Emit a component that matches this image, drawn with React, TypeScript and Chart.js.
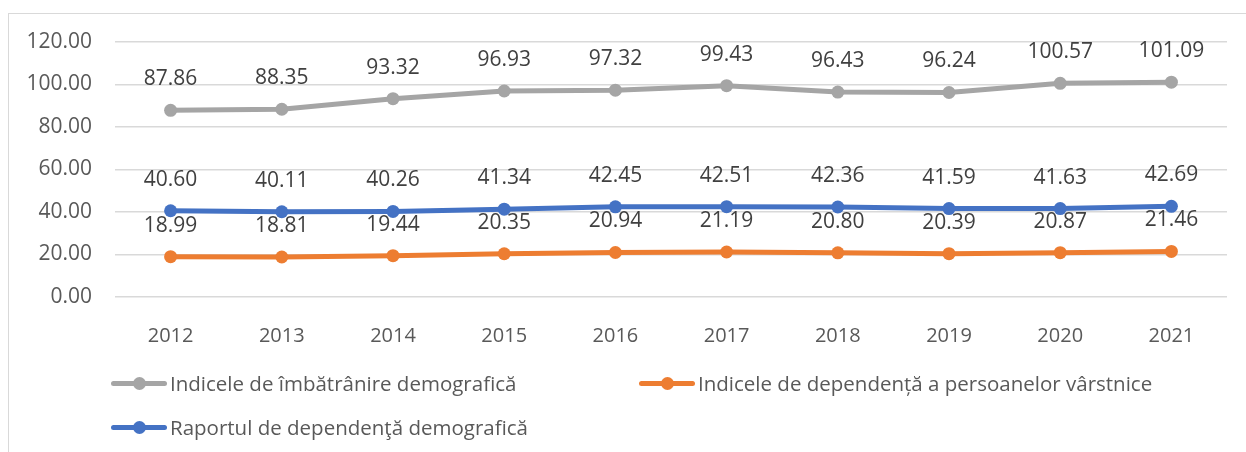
import React, { useEffect, useRef } from "react";
import { Chart, registerables } from "chart.js";

Chart.register(...registerables);

const categories = ["2012", "2013", "2014", "2015", "2016", "2017", "2018", "2019", "2020", "2021"];
const imbatranire = [87.86, 88.35, 93.32, 96.93, 97.32, 99.43, 96.43, 96.24, 100.57, 101.09];
const dependentaVarstnici = [18.99, 18.81, 19.44, 20.35, 20.94, 21.19, 20.8, 20.39, 20.87, 21.46];
const raportDependenta = [40.6, 40.11, 40.26, 41.34, 42.45, 42.51, 42.36, 41.59, 41.63, 42.69];
const yTicks = [0, 20, 40, 60, 80, 100, 120];

const seriesNames = [
  "Indicele de îmbătrânire demografică",
  "Indicele de dependență a persoanelor vârstnice",
  "Raportul de dependenţă demografică",
];
const colors = ["#A5A5A5", "#ED7D31", "#4472C4"];

const FONT = "'Open Sans', 'Noto Sans', sans-serif";

const labelPlugin = {
  id: "valueLabels",
  afterDatasetsDraw(chart: any) {
    const ctx = chart.ctx;
    ctx.save();
    ctx.font = `21px ${FONT}`;
    ctx.fillStyle = "#404040";
    ctx.textAlign = "center";
    ctx.textBaseline = "middle";
    chart.data.datasets.forEach((ds: any, i: number) => {
      const meta = chart.getDatasetMeta(i);
      meta.data.forEach((pt: any, j: number) => {
        ctx.fillText(Number(ds.data[j]).toFixed(2), pt.x, pt.y - 31);
      });
    });
    ctx.restore();
  },
};

function LegendItem({ color, text, left, top }: { color: string; text: string; left: number; top: number }) {
  return (
    <div style={{ position: "absolute", left, top, display: "flex", alignItems: "center", height: 26 }}>
      <div style={{ position: "relative", width: 56, height: 26 }}>
        <div style={{ position: "absolute", left: 0, right: 0, top: 10.5, height: 5, background: color, borderRadius: 3 }} />
        <div style={{ position: "absolute", left: 21.5, top: 6.5, width: 13, height: 13, borderRadius: "50%", background: color }} />
      </div>
      <div style={{ marginLeft: 3, fontFamily: FONT, fontSize: 20.5, color: "#595959", whiteSpace: "nowrap" }}>{text}</div>
    </div>
  );
}

export default function App() {
  const ref = useRef<HTMLCanvasElement | null>(null);

  useEffect(() => {
    if (!ref.current) return;
    const data = [imbatranire, dependentaVarstnici, raportDependenta];
    const chart = new Chart(ref.current, {
      type: "line",
      data: {
        labels: categories,
        datasets: data.map((d, i) => ({
          label: seriesNames[i],
          data: d,
          borderColor: colors[i],
          backgroundColor: colors[i],
          borderWidth: 5,
          pointRadius: 6.5,
          pointHoverRadius: 6.5,
          pointBorderWidth: 0,
          tension: 0,
          fill: false,
        })),
      },
      options: {
        animation: false,
        responsive: false,
        maintainAspectRatio: false,
        layout: { padding: { top: 42, right: 19, bottom: 0, left: 0 } },
        plugins: { legend: { display: false }, tooltip: { enabled: false } },
        scales: {
          x: {
            offset: true,
            grid: { display: false },
            border: { display: false },
            ticks: { color: "#595959", font: { family: FONT, size: 20 }, padding: 19 },
            afterFit: (s: any) => {
              s.height = 452 - 297;
            },
          },
          y: {
            min: 0,
            max: 120,
            afterBuildTicks: (s: any) => {
              s.ticks = yTicks.map((v) => ({ value: v }));
            },
            grid: { color: "#D9D9D9", lineWidth: 1.5, drawTicks: false },
            border: { display: false },
            ticks: {
              color: "#595959",
              font: { family: FONT, size: 21 },
              padding: 23,
              callback: (v: any) => Number(v).toFixed(2),
            },
            afterFit: (s: any) => {
              s.width = 115;
            },
          },
        },
      },
      plugins: [labelPlugin],
    });
    return () => chart.destroy();
  }, []);

  return (
    <div style={{ position: "absolute", left: 0, top: 0, width: 1246, height: 452, background: "#fff", overflow: "hidden" }}>
      <div style={{ position: "absolute", left: 8, top: 13, width: 1300, height: 500, borderLeft: "1.5px solid #D9D9D9", borderTop: "1.5px solid #D9D9D9" }} />
      <canvas ref={ref} width={1246} height={452} style={{ position: "absolute", left: 0, top: 0, width: 1246, height: 452 }} />
      <LegendItem color={colors[0]} text={seriesNames[0]} left={111} top={370} />
      <LegendItem color={colors[1]} text={seriesNames[1]} left={639} top={370} />
      <LegendItem color={colors[2]} text={seriesNames[2]} left={111} top={414} />
    </div>
  );
}
